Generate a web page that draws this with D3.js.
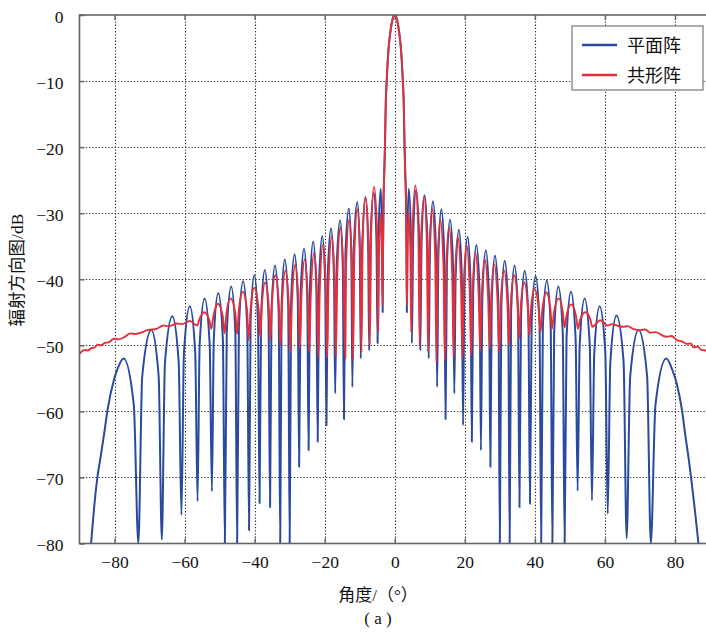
<!DOCTYPE html>
<html><head><meta charset="utf-8">
<script src="https://cdn.jsdelivr.net/npm/d3@7/dist/d3.min.js"></script>
<style>
html,body{margin:0;padding:0;background:#fff;}
svg{display:block;}
text{font-family:"Liberation Serif","Times New Roman","Noto Sans CJK SC",serif;fill:#111;}
</style></head>
<body>
<svg id="chart" width="706" height="640"></svg>
<script>
// ---------- data ----------
const seriesNames = ["平面阵", "共形阵"];
const xTicks = [-80, -60, -40, -20, 0, 20, 40, 60, 80];
const yTicks = [0, -10, -20, -30, -40, -50, -60, -70, -80];
const xTitle = "角度/（°）";
const yTitle = "辐射方向图/dB";
const caption = "( a )";

// main lobe shared by both arrays  [angle (deg), level (dB)]
const mainLobe = [[-3.35,-36],[-3.2,-28],[-3.0,-24],[-2.8,-20],[-2.55,-13],[-2.3,-10],[-1.8,-5.3],[-1.3,-2.8],[-0.6,-0.6],[0,0],
  [0.6,-0.6],[1.3,-2.8],[1.8,-5.3],[2.3,-10],[2.55,-13],[2.8,-20],[3.0,-24],[3.2,-28],[3.35,-36]];

// planar array, left side
const blueLeft = [[-88,-86],[-86.7,-80],[-85.9,-75],[-84.9,-70],[-84.0,-67],[-83.0,-63.5],[-82.0,-59.8],[-80.2,-55.3],[-79.3,-53.8],[-77.4,-52],[-74.5,-59],[-73.2,-80],
  [-72.09,-54.7],[-69.5,-47.7],[-67.4,-54.7],[-66.5,-79.4],
  [-65.6,-52.6],[-63.5,-45.6],[-61.68,-52.6],[-60.9,-75.7],
  [-60.18,-51.1],[-58.5,-44.1],[-56.96,-51.1],[-56.3,-73.6],
  [-55.7,-49.9],[-54.3,-42.9],[-52.83,-49.9],[-52.2,-72.1],
  [-51.66,-49.1],[-50.4,-42.1],[-49.07,-49.1],[-48.5,-80],
  [-47.96,-48.1],[-46.7,-41.1],[-45.51,-48.1],[-45.0,-80],
  [-44.49,-47.3],[-43.3,-40.3],[-42.11,-47.3],[-41.6,-78],
  [-41.15,-46.4],[-40.1,-39.4],[-39.05,-46.4],[-38.6,-73.9],
  [-38.15,-45.6],[-37.1,-38.6],[-36.05,-45.6],[-35.6,-74.5],
  [-35.18,-44.9],[-34.2,-37.9],[-33.15,-44.9],[-32.7,-80],
  [-32.31,-44],[-31.4,-37],[-30.42,-44],[-30.0,-80],
  [-29.58,-43.2],[-28.6,-36.2],[-27.69,-43.2],[-27.3,-68.4],
  [-26.88,-42.4],[-25.9,-35.4],[-24.99,-42.4],[-24.6,-65.9],
  [-24.21,-41.3],[-23.3,-34.3],[-22.39,-41.3],[-22.0,-64.6],
  [-21.61,-40.5],[-20.7,-33.5],[-19.86,-40.5],[-19.5,-62.1],
  [-19.11,-39.3],[-18.2,-32.3],[-17.36,-39.3],[-17.0,-57.3],
  [-16.58,-38.1],[-15.6,-31.1],[-14.83,-38.1],[-14.5,-61.2],
  [-14.08,-36.3],[-13.1,-29.3],[-12.4,-36.3],[-12.1,-56.3],
  [-11.68,-35.3],[-10.7,-28.3],[-10.0,-35.3],[-9.7,-52],
  [-9.28,-34.7],[-8.3,-27.7],[-7.6,-34.7],[-7.3,-50.8],
  [-6.91,-33.9],[-6.0,-26.9],[-5.23,-33.9],[-4.9,-49.7],
  [-4.63,-33.3],[-4.0,-26.3],[-3.62,-33.3],[-3.45,-45]];

// planar array, right side
const blueRight = [[3.45,-45],[3.62,-33.3],[4.0,-26.3],[4.63,-33.3],[4.9,-49.7],
  [5.26,-33.5],[6.1,-26.5],[6.94,-33.5],[7.3,-50.8],
  [7.66,-34.3],[8.5,-27.3],[9.34,-34.3],[9.7,-52],
  [10.06,-35.2],[10.9,-28.2],[11.74,-35.2],[12.1,-56.3],
  [12.46,-36.4],[13.3,-29.4],[14.14,-36.4],[14.5,-61.2],
  [14.89,-38],[15.8,-31],[16.64,-38],[17.0,-57.3],
  [17.39,-39.5],[18.3,-32.5],[19.14,-39.5],[19.5,-62.1],
  [19.89,-40.6],[20.8,-33.6],[21.64,-40.6],[22.0,-64.6],
  [22.39,-41.8],[23.3,-34.8],[24.21,-41.8],[24.6,-65.9],
  [25.02,-42.6],[26.0,-35.6],[26.91,-42.6],[27.3,-68.4],
  [27.69,-43.4],[28.6,-36.4],[29.58,-43.4],[30.0,-80],
  [30.42,-44.2],[31.4,-37.2],[32.38,-44.2],[32.8,-80],
  [33.22,-44.9],[34.2,-37.9],[35.18,-44.9],[35.6,-74.5],
  [36.05,-45.7],[37.1,-38.7],[38.15,-45.7],[38.6,-74],
  [39.08,-46.5],[40.2,-39.5],[41.32,-46.5],[41.8,-80],
  [42.28,-47.2],[43.4,-40.2],[44.52,-47.2],[45.0,-80],
  [45.51,-48.1],[46.7,-41.1],[47.96,-48.1],[48.5,-80],
  [49.04,-48.9],[50.3,-41.9],[51.63,-48.9],[52.2,-72],
  [52.8,-49.9],[54.2,-42.9],[55.67,-49.9],[56.3,-73.5],
  [56.96,-51.1],[58.5,-44.1],[60.11,-51.1],[60.8,-75.5],
  [61.55,-52.5],[63.3,-45.5],[65.33,-52.5],[66.2,-79.2],
  [67.22,-54.7],[69.6,-47.7],[72.05,-54.7],[73.1,-80],
  [74.43,-59],[77.5,-52],[79.3,-53.8],[80.6,-56],[82.0,-59.8],[83.0,-63.8],[84.0,-67.5],[84.8,-70.9],[85.8,-75.5],[86.7,-80],[88,-86]];

// conformal array, left side
const redLeft = [[-90,-51.3],[-89.7,-51.1],[-88.5,-50.7],[-87.6,-50.8],[-86.8,-50.5],[-85.6,-50.3],[-84.9,-49.9],[-83.8,-50.0],[-83,-49.7],[-81.5,-49.5],
  [-80.2,-49.0],[-79.0,-49.1],[-77.3,-48.8],[-75.4,-48.2],[-74.0,-48.3],[-72.6,-48.1],[-70.6,-47.7],[-68,-47.5],[-66,-47.0],[-64.5,-47.1],[-62.1,-46.7],[-60.7,-46.8],
  [-58.5,-46.3],[-56.4,-47.0],
  [-55.8,-46.1],[-54.4,-45],[-52.93,-46.2],[-52.4,-47.5],
  [-51.75,-45.5],[-50.5,-43.7],[-49.1,-45.6],[-48.6,-48.2],
  [-48.0,-45.0],[-46.9,-42.9],[-45.5,-45.2],[-45.0,-48.3],
  [-44.5,-44.6],[-43.4,-41.9],[-42.2,-44.6],[-41.7,-49.2],
  [-41.15,-44.5],[-40.1,-41.3],[-38.85,-44.6],[-38.4,-48.8],
  [-37.98,-44.3],[-37.0,-40.5],[-35.95,-44.3],[-35.5,-49.2],
  [-35.08,-43.8],[-34.1,-39.4],[-33.05,-44.2],[-32.6,-50],
  [-32.18,-43.8],[-31.2,-38.7],[-30.22,-44.2],[-29.8,-51],
  [-29.38,-43.7],[-28.4,-37.8],[-27.49,-43.5],[-27.1,-50.5],
  [-26.68,-43.1],[-25.7,-37],[-24.79,-43.3],[-24.4,-51],
  [-24.0,-42.8],[-23.0,-36],[-22.16,-43],[-21.8,-51.8],
  [-21.41,-41.8],[-20.5,-34.8],[-19.66,-41.8],[-19.3,-51.8],
  [-18.91,-40.6],[-18.0,-33.6],[-17.16,-40.6],[-16.8,-51.6],
  [-16.41,-39.2],[-15.5,-32.2],[-14.66,-39.2],[-14.1,-52],
  [-13.91,-38],[-13.0,-31],[-12.23,-38],[-11.9,-52.3],
  [-11.54,-36.4],[-10.7,-29.4],[-9.86,-36.4],[-9.5,-51],
  [-9.17,-34.5],[-8.4,-27.5],[-7.49,-34.5],[-7.1,-50],
  [-6.74,-32.8],[-5.9,-26],[-5.06,-32.8],[-4.7,-48],
  [-4.5,-37],[-4.0,-30],[-3.65,-36.3],[-3.5,-44]];

// conformal array, right side
const redRight = [[3.5,-44],[3.65,-36.3],[4.0,-30],[4.5,-37],[4.7,-48],
  [5.06,-32.8],[5.9,-25.8],[6.74,-32.8],[7.1,-50],
  [7.49,-34.5],[8.4,-27.5],[9.17,-34.5],[9.5,-51],
  [9.86,-36.4],[10.7,-29.4],[11.54,-36.4],[11.9,-52.5],
  [12.23,-38],[13.0,-31],[13.91,-38],[14.3,-52.3],
  [14.66,-39.2],[15.5,-32.2],[16.41,-39.2],[16.8,-51.8],
  [17.16,-40.6],[18.0,-33.6],[18.91,-40.6],[19.3,-52],
  [19.66,-41.8],[20.5,-34.8],[21.41,-41.8],[21.8,-51.5],
  [22.16,-43],[23.0,-36],[24.0,-42.75],[24.4,-51],
  [24.79,-43.3],[25.7,-37],[26.68,-43.1],[27.1,-50.5],
  [27.49,-43.5],[28.4,-37.8],[29.38,-43.7],[29.8,-51],
  [30.22,-44.2],[31.2,-38.7],[32.18,-43.8],[32.6,-50],
  [33.05,-44.2],[34.1,-39.4],[35.08,-43.7],[35.5,-49],
  [35.95,-44.3],[37.0,-40.5],[37.98,-44.1],[38.4,-48.5],
  [38.85,-44.65],[39.9,-41.5],[41.09,-44.4],[41.6,-48],
  [42.11,-44.7],[43.3,-42],[44.42,-44.5],[44.9,-47.5],
  [45.47,-45],[46.8,-42.9],[47.96,-44.9],[48.5,-47.3],
  [49.07,-45.4],[50.4,-43.8],[51.73,-45.5],[52.3,-47.5],
  [52.93,-46.1],[54.4,-45],[55.8,-46],[56.4,-47.2],
  [58.7,-46.2],[60.7,-47],[62.0,-46.8],[63.4,-47],[65,-47.2],[66.5,-47.1],[68,-47.5],[70,-47.7],[71.5,-47.6],[73,-48.1],
  [74.5,-48.0],[76,-48.4],[77.7,-48.7],[79,-48.6],[80.5,-49.2],[82,-49.4],[83.5,-49.8],[84.5,-49.7],[85.3,-50.3],[86.5,-50.2],[87.5,-50.7],[88.9,-50.8],[90,-51]];

const colors = ["#2a4a9e", "#e4303a"];

// ---------- drawing ----------
const svg = d3.select("#chart");
const L = 79.5, T = 15, R = 710, B = 543.5;
const x = d3.scaleLinear().domain([-90, 90]).range([L, R]);
const y = d3.scaleLinear().domain([-80, 0]).range([B, T]);

svg.append("defs").append("clipPath").attr("id", "plotclip")
  .append("rect").attr("x", L).attr("y", T).attr("width", R - L).attr("height", B - T);

// grid
const grid = svg.append("g").attr("stroke", "#333").attr("stroke-width", 1.1).attr("stroke-dasharray", "1.3,1.9").attr("fill", "none");
xTicks.forEach(t => grid.append("line").attr("x1", Math.round(x(t)) + 0.5).attr("x2", Math.round(x(t)) + 0.5).attr("y1", T).attr("y2", B));
yTicks.filter(t => t > -80 && t < 0).forEach(t => grid.append("line").attr("x1", L).attr("x2", R).attr("y1", Math.round(y(t)) + 0.5).attr("y2", Math.round(y(t)) + 0.5));

// curves
const line = d3.line().x(d => x(d[0])).y(d => y(d[1])).curve(d3.curveMonotoneX);
const plot = svg.append("g").attr("clip-path", "url(#plotclip)");
const blue = blueLeft.concat(mainLobe, blueRight);
const red = redLeft.concat(mainLobe, redRight);
plot.append("path").datum(blue).attr("d", line).attr("fill", "none").attr("stroke", colors[0]).attr("stroke-width", 2).attr("stroke-linejoin", "round");
plot.append("path").datum(red).attr("d", line).attr("fill", "none").attr("stroke", colors[1]).attr("stroke-width", 1.9).attr("stroke-linejoin", "round");

// frame
svg.append("rect").attr("x", L).attr("y", T).attr("width", R - L).attr("height", B - T)
  .attr("fill", "none").attr("stroke", "#606668").attr("stroke-width", 1.6);

// axes (ticks inward, labels outside)
const xAxisB = d3.axisBottom(x).tickValues(xTicks).tickSize(-5).tickPadding(12).tickFormat(d => d3.format("")(d).replace("-", "−"));
const gx = svg.append("g").attr("transform", `translate(0,${B})`).call(xAxisB);
const xAxisT = d3.axisTop(x).tickValues(xTicks).tickSize(-5).tickFormat("");
const gxt = svg.append("g").attr("transform", `translate(0,${T})`).call(xAxisT);
const yAxisL = d3.axisLeft(y).tickValues(yTicks).tickSize(-5).tickPadding(16).tickFormat(d => d3.format("")(d).replace("-", "−"));
const gy = svg.append("g").attr("transform", `translate(${L},0)`).call(yAxisL);
[gx, gxt, gy].forEach(g => {
  g.select(".domain").remove();
  g.selectAll(".tick line").attr("stroke", "#606668").attr("stroke-width", 1.5);
  g.selectAll("text").attr("fill", "#111").style("font-family", '"Liberation Serif","Times New Roman",serif').style("font-size", "17.5px");
});
gx.selectAll("text").attr("dy", "0.71em");
gy.selectAll("text").attr("dy", "0.4em");

// titles
svg.append("text").attr("x", 378).attr("y", 601).attr("text-anchor", "middle").style("font-size", "17px").text(xTitle);
svg.append("text").attr("x", 378).attr("y", 624).attr("text-anchor", "middle").style("font-size", "17px").text(caption);
svg.append("text").attr("transform", "translate(23,270) rotate(-90)").attr("text-anchor", "middle").style("font-size", "17.5px").text(yTitle);

// legend
const lg = svg.append("g");
lg.append("rect").attr("x", 572).attr("y", 26).attr("width", 131).attr("height", 64).attr("fill", "#fff").attr("stroke", "#777").attr("stroke-width", 1.2);
seriesNames.forEach((n, i) => {
  const ly = 45 + i * 30;
  lg.append("line").attr("x1", 582).attr("x2", 617).attr("y1", ly).attr("y2", ly).attr("stroke", colors[i]).attr("stroke-width", 2.6);
  lg.append("text").attr("x", 627).attr("y", ly + 7).style("font-size", "18px").text(n);
});
</script>
</body></html>
